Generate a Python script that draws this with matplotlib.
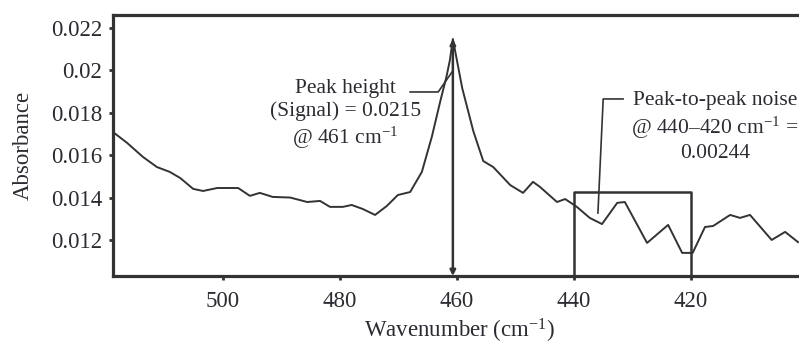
import matplotlib
matplotlib.use('Agg')
import matplotlib.pyplot as plt

plt.rcParams['font.family'] = ['Liberation Serif', 'DejaVu Serif']
plt.rcParams['mathtext.fontset'] = 'custom'
plt.rcParams['mathtext.rm'] = 'Liberation Serif'
plt.rcParams['mathtext.it'] = 'Liberation Serif:italic'

INK = '#2b2b33'

# spectrum
wavenumber = [518.8, 516.4, 513.7, 511.3, 509.1, 507.3, 505.1, 503.4, 501.0, 497.4,
              495.4, 493.7, 491.5, 488.5, 485.6, 483.4, 481.7, 479.5, 478.0, 476.1,
              474.0, 472.0, 470.1, 468.0, 466.0, 464.3, 462.8, 461.8, 461.2, 460.7,
              459.1, 457.2, 455.5, 453.8, 450.9, 448.7, 447.0, 445.8, 442.9, 441.5,
              439.5, 437.3, 435.2, 432.6, 431.3, 427.5, 423.9, 421.5, 419.7, 417.6,
              416.2, 413.3, 411.6, 409.9, 406.2, 403.9, 401.7]
absorbance = [0.01709, 0.01658, 0.01592, 0.01544, 0.01521, 0.01492, 0.01441, 0.01431, 0.01445, 0.01445,
              0.01408, 0.01422, 0.01403, 0.01400, 0.01379, 0.01384, 0.01356, 0.01356, 0.01365, 0.01346,
              0.01318, 0.01360, 0.01412, 0.01426, 0.01521, 0.01686, 0.01860, 0.01969, 0.02049, 0.02148,
              0.01916, 0.01713, 0.01572, 0.01544, 0.01459, 0.01422, 0.01474, 0.01450, 0.01379, 0.01393,
              0.01356, 0.01304, 0.01275, 0.01375, 0.01379, 0.01186, 0.01271, 0.01139, 0.01139, 0.01261,
              0.01266, 0.01318, 0.01304, 0.01318, 0.01200, 0.01238, 0.01190]

x_ticks = [500, 480, 460, 440, 420]
y_ticks = [0.012, 0.014, 0.016, 0.018, 0.02, 0.022]
y_ticklabels = ['0.012', '0.014', '0.016', '0.018', '0.02', '0.022']

peak_x, peak_y = 460.7, 0.02148
noise_box = (440, 420)
noise_top = 0.01426

fig = plt.figure(figsize=(7.99, 3.47), dpi=100)
ax = fig.add_axes([113 / 799, 1 - 276 / 347, 692 / 799, 261 / 347])
ax.set_xlim(518.8, 400.5)
ax.set_ylim(0.0103, 0.02261)

ax.plot(wavenumber, absorbance, color='#333333', lw=1.4, solid_joinstyle='round')

for s in ax.spines.values():
    s.set_linewidth(2.3)
    s.set_color('#333333')

ax.set_xticks(x_ticks)
ax.set_yticks(y_ticks)
ax.set_yticklabels(y_ticklabels)
ax.tick_params(direction='out', length=3, width=2, color='#333333',
               labelsize=16.5, labelcolor=INK, pad=5)
ax.tick_params(axis='x', pad=8)
ax.set_xlabel('Wavenumber (cm$^{-1}$)', fontsize=16.5, color=INK, labelpad=3)
ax.set_ylabel('Absorbance', fontsize=16.5, color=INK, labelpad=12)

# peak height arrow
ax.annotate('', xy=(peak_x, peak_y), xytext=(peak_x, 0.0103),
            arrowprops=dict(arrowstyle='<|-|>', color='#333333', lw=1.8,
                            mutation_scale=8, shrinkA=0, shrinkB=0))
ax.plot([468.0, 463.2, 460.85], [0.01898, 0.01898, 0.01992], color='#333333', lw=1.2)
ax.text(479.1, 0.0179, 'Peak height\n(Signal) = 0.0215\n@ 461 cm$^{-1}$',
        ha='center', va='center', fontsize=15.5, color=INK, linespacing=1.22)

# noise box
ax.plot([noise_box[0], noise_box[0], noise_box[1], noise_box[1]],
        [0.0103, noise_top, noise_top, 0.0103], color='#333333', lw=1.8)
ax.plot([431.6, 435.0, 435.9], [0.01865, 0.01865, 0.01327], color='#333333', lw=1.2)
ax.text(415.9, 0.01733, 'Peak-to-peak noise\n@ 440\u2013420 cm$^{-1}$ =\n0.00244',
        ha='center', va='center', fontsize=15.5, color=INK, linespacing=1.22,
        clip_on=False)

fig.savefig('out.png', dpi=100, facecolor='white')
